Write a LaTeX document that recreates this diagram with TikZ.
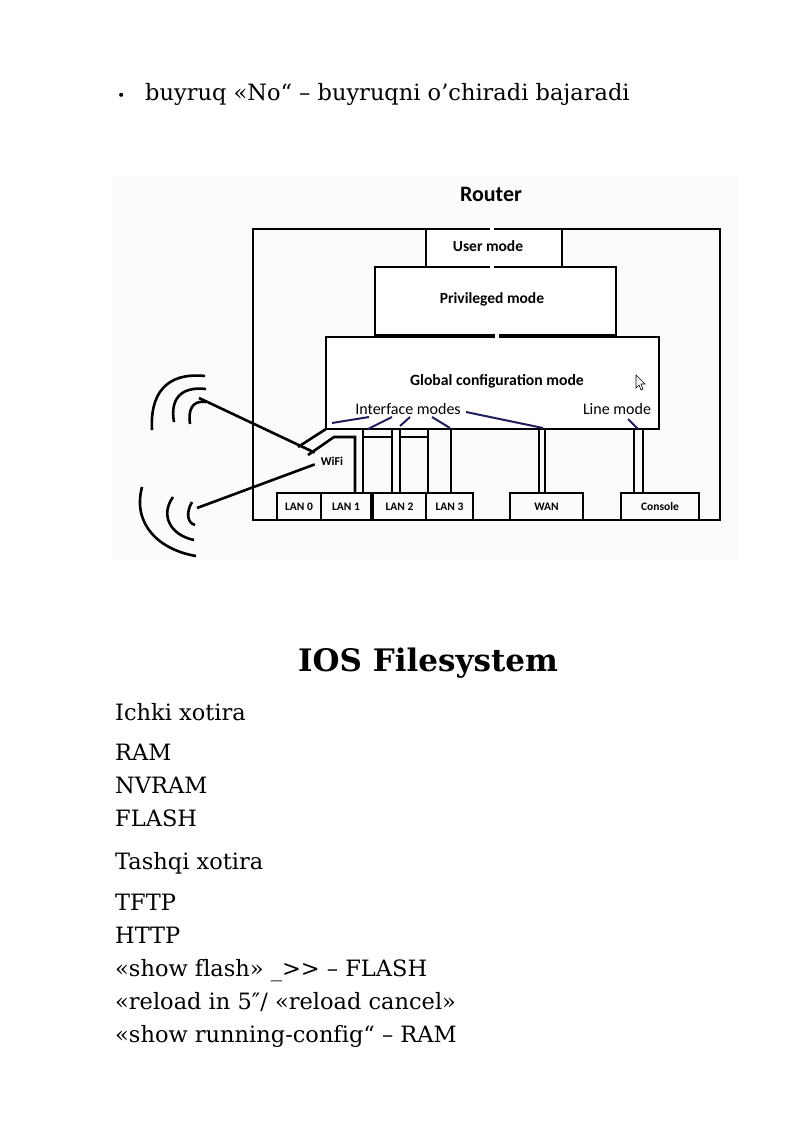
\documentclass[tikz,border=0pt]{standalone}
\usepackage{fontspec}
\setmainfont{DejaVu Serif}[Ligatures=NoCommon]
\newfontfamily\lbl{Carlito}
\begin{document}
\begin{tikzpicture}[x=1pt,y=-1pt,
 box/.style={draw,line width=2.8pt},
 wire/.style={line width=2.6pt},
 blue/.style={draw={rgb,255:red,30;green,30;blue,90},line width=2pt},
 t/.style={font=\lbl\bfseries\fontsize{11.5}{12}\selectfont,inner sep=0pt},
 body/.style={anchor=base west,inner sep=0pt,font=\fontsize{22.5}{26}\selectfont}]
\useasboundingbox (0,0) rectangle (800,1131);
\fill[white] (0,0) rectangle (800,1131);
\fill[gray!3] (112,176) rectangle (738,560);
\node[body] (b0) at (117,101) {\fontsize{14}{16}\selectfont\textbullet};
\node[body] (b1) at (145,101) {buyruq «No“ – buyruqni o’chiradi bajaradi};
% boxes
\draw[box] (253,229) rectangle (720,520);
\draw[box,fill=white] (426,229) rectangle (562,267);
\draw[box,fill=white] (375,267) rectangle (616,335);
\draw[box,fill=white] (326,337) rectangle (659,429);
\node[font=\lbl\bfseries\fontsize{22}{24}\selectfont] (router) at (491,194) {Router};
\node[t,font=\lbl\bfseries\fontsize{15.5}{17}\selectfont] (um) at (488,246) {User mode};
\node[t,font=\lbl\bfseries\fontsize{15.5}{17}\selectfont] (pm) at (492,299) {Privileged mode};
\node[t,font=\lbl\bfseries\fontsize{15.7}{17}\selectfont] (gm) at (497,381) {Global configuration mode};
\node[t,font=\lbl\fontsize{16}{17}\selectfont] (im) at (408,409) {Interface modes};
\node[t,font=\lbl\fontsize{16}{17}\selectfont] (lm) at (617,409) {Line mode};
\foreach \x in {492}{\fill[white] (\x-2,225) rectangle (\x+2,233);\fill[white] (\x-2,263) rectangle (\x+2,271);\fill[white] (\x+3,332) rectangle (\x+7,340);}
% LAN boxes
\foreach \a/\b/\n/\s in {277/321/la/LAN 0,321/371/lb/LAN 1,373/426/lc/LAN 2,426/473/ld/LAN 3,510/583/wan/WAN,621/699/con/Console}{
 \draw[box] (\a,520) -- (\a,493) -- (\b,493) -- (\b,520);
 \node[t] (\n) at ({(\a+\b)/2},507) {\s};}
% connectors
\draw[wire] (298,447) -- (326,429);
\draw[wire] (308,455) -- (334,437) -- (355,437) -- (355,493);
\foreach \x in {363,392,400,428,451,539,545,634,643}{\draw[wire] (\x,429) -- (\x,493);}
\draw[wire] (363,437) -- (392,437); \draw[wire] (400,437) -- (428,437);
\draw[blue] (369,417) -- (332,423);
\draw[blue] (392,417) -- (368,429);
\draw[blue] (410,417) -- (400,426);
\draw[blue] (432,417) -- (450,428);
\draw[blue] (466,412) -- (543,428);
\draw[blue] (628,419) -- (638,429);
\node[t,font=\lbl\bfseries\fontsize{12}{13}\selectfont] (wifi) at (332,461) {WiFi};
\draw[wire] (wifi.north west) ++(-6,-4) coordinate (w1) -- (199,398);
\draw[wire] (wifi.south west) ++(-6,-1) coordinate (w2) -- (197,508);
% antennas
\draw[wire] (205,376) .. controls (165,372) and (150,395) .. (152,430);
\draw[wire] (206,389) .. controls (180,386) and (170,400) .. (174,422);
\draw[wire] (206,402) .. controls (192,400) and (188,410) .. (190,424);
\draw[wire] (196,556) .. controls (160,550) and (132,525) .. (142,487);
\draw[wire] (194,540) .. controls (170,535) and (160,515) .. (173,497);
\draw[wire] (195,525) .. controls (187,523) and (186,512) .. (192,502);
% cursor
\draw[line width=0.6pt,fill=white] (636,375) -- (636,388) -- (639,385) -- (641,390) -- (643,389) -- (641,384) -- (645,384) -- cycle;
% text
\node[font=\bfseries\fontsize{31}{34}\selectfont] (h) at (428,663) {IOS Filesystem};
\foreach \y/\s in {720/{Ichki xotira},760/{RAM},793/{NVRAM},826/{FLASH},869/{Tashqi xotira},910/{TFTP},943/{HTTP},976/{«show flash» \_{>}{>} – FLASH},1009/{«reload in 5″/ «reload cancel»},1042/{«show running-config“ – RAM}}{
 \node[body] at (115,\y) {\s};}
\end{tikzpicture}
\end{document}
